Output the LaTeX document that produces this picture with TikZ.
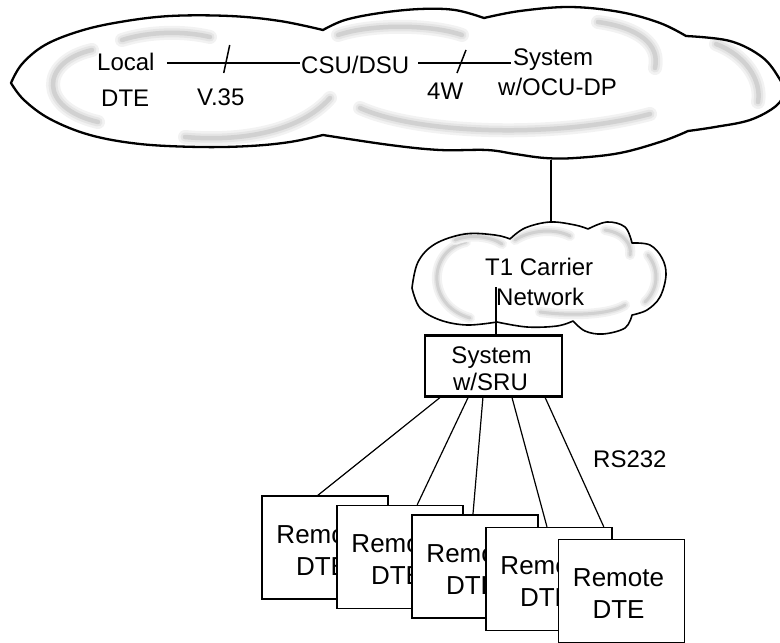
\documentclass[tikz,border=0pt]{standalone}
\usepackage{fontspec}
\setmainfont{Liberation Sans}
\usetikzlibrary{calc}
\begin{document}
\begin{tikzpicture}[x=1pt,y=-1pt,
  lbl/.style={inner sep=0pt, anchor=base west, font=\fontsize{24}{28}\selectfont},
  clbl/.style={inner sep=0pt, anchor=base, font=\fontsize{24}{28}\selectfont},
  rlbl/.style={inner sep=0pt, anchor=base, font=\fontsize{26}{30}\selectfont},
  conn/.style={draw=black, line width=1.2pt},
  bigcloud/.style={draw=black, line width=2.3pt, line join=round},
  smallcloud/.style={draw=black, line width=1.6pt, line join=round},
  haze/.style={draw=gray!10, line width=14pt, line cap=round,
               postaction={draw=gray!20, line width=9pt, line cap=round},
               postaction={draw=gray!36, line width=4.5pt, line cap=round}},
  shaze/.style={draw=gray!10, line width=10pt, line cap=round,
               postaction={draw=gray!20, line width=6pt, line cap=round},
               postaction={draw=gray!36, line width=3pt, line cap=round}},
  dtebox/.style={draw=black, fill=white, line width=1.4pt, minimum width=126pt, minimum height=103pt, inner sep=0pt},
  srubox/.style={draw=black, fill=white, line width=2.4pt, minimum width=137pt, minimum height=61pt, inner sep=0pt}
]
\useasboundingbox (0,0) rectangle (780,643);
\begin{scope}
\clip (0,0) rectangle (780,643);
% haze inside big cloud
\draw[haze] (92,50) .. controls (40,62) and (38,108) .. (98,122);
\draw[haze] (122,40) .. controls (150,31) and (185,31) .. (210,37);
\draw[haze] (185,137) .. controls (240,142) and (300,132) .. (330,98);
\draw[haze] (338,35) .. controls (370,24) and (430,24) .. (462,35);
\draw[haze] (360,108) .. controls (420,135) and (560,138) .. (650,114);
\draw[haze] (598,22) .. controls (640,28) and (660,45) .. (655,68);
\draw[haze] (716,44) .. controls (745,55) and (762,80) .. (758,102);
% big cloud outline
\draw[bigcloud] plot[smooth, tension=0.6] coordinates {(11,83) (22,64) (45,45) (80,31) (120,22) (170,16) (230,16) (280,21) (323,30)}
 -- plot[smooth, tension=0.6] coordinates {(323,30) (345,20) (380,13) (420,9) (455,10) (484,18)}
 -- plot[smooth, tension=0.6] coordinates {(484,18) (520,11) (570,7) (620,12) (660,23) (686,36)}
 -- plot[smooth, tension=0.6] coordinates {(686,36) (730,41) (762,57) (779,78) (784,92) (776,106) (750,120) (715,127) (688,131)}
 -- plot[smooth, tension=0.6] coordinates {(688,131) (663,141) (620,153) (575,158) (545,158) (515,154) (487,150) (440,150) (390,145) (323,135)}
 -- plot[smooth, tension=0.6] coordinates {(323,135) (290,142) (250,146) (200,147) (140,144) (90,135) (50,119) (24,100) (11,83)} -- cycle;
\end{scope}

% haze inside small cloud
\draw[shaze] (466,242) .. controls (428,250) and (425,305) .. (470,318);
\draw[shaze] (455,240) .. controls (470,234) and (490,236) .. (502,244);
\draw[shaze] (515,240) .. controls (530,230) and (555,228) .. (570,236);
\draw[shaze] (605,230) .. controls (625,233) and (632,245) .. (630,255);
\draw[shaze] (648,255) .. controls (660,270) and (658,290) .. (645,302);
\draw[shaze] (540,312) .. controls (570,316) and (610,315) .. (625,305);
% small cloud outline
\draw[smallcloud] plot[smooth, tension=0.6] coordinates {(412,288) (418,262) (435,244) (465,234) (495,235) (510,239)}
 -- plot[smooth, tension=0.6] coordinates {(510,239) (525,228) (550,222) (575,225) (588,229)}
 -- plot[smooth, tension=0.6] coordinates {(588,229) (607,222) (625,227) (632,243)}
 -- plot[smooth, tension=0.6] coordinates {(632,243) (650,245) (662,258) (666,275) (660,297) (647,310) (632,315)}
 -- plot[smooth, tension=0.6] coordinates {(632,315) (625,328) (603,334) (585,331) (573,321)}
 -- plot[smooth, tension=0.6] coordinates {(573,321) (557,326) (527,327) (497,322)}
 -- plot[smooth, tension=0.6] coordinates {(497,322) (467,325) (440,320) (420,308) (412,288)} -- cycle;

% top row labels
\node[lbl] (local) at (97,70) {Local};
\node[lbl] (ldte) at (101,106) {DTE};
\node[lbl] (v35) at (197,105) {V.35};
\node[lbl] (csu) at (301,73) {CSU/DSU};
\node[lbl] (fourw) at (427,99) {4W};
\node[lbl] (sys) at (513,65) {System};
\node[lbl] (ocu) at (498,95) {w/OCU-DP};

\coordinate (l1s) at ($(local.base east)+(12,-7)$);
\coordinate (l1e) at ($(csu.base west)+(-1,-10)$);
\draw[conn] (l1s) -- (l1e);
\coordinate (m1) at ($(l1s)!0.45!(l1e)$);
\draw[conn, line width=1.5pt] ($(m1)+(-3,10)$) -- ($(m1)+(3,-18)$);

\coordinate (l2s) at ($(csu.base east)+(9,-10)$);
\coordinate (l2e) at ($(sys.base west)+(-2,-2)$);
\draw[conn] (l2s) -- (l2e);
\coordinate (m2) at ($(l2s)!0.46!(l2e)$);
\draw[conn, line width=1.5pt] ($(m2)+(-4,10)$) -- ($(m2)+(5,-13)$);

% link big cloud to T1 cloud
\coordinate (bigbottom) at (551,160);
\coordinate (smalltop) at (551,222);
\draw[conn] (bigbottom) -- (smalltop);

% T1 labels
\node[lbl] (t1) at (485,275) {T1 Carrier};
\node[lbl] (net) at (496,305) {Network};

% SRU box
\node[srubox] (sru) at (493.5,366) {};
\node[clbl] (sruA) at (491.5,363) {System};
\node[clbl] (sruB) at (490.5,390) {w/SRU};
\coordinate (netin) at (496,287);
\draw[conn, line width=1.4pt] (netin) -- (netin |- sru.north);

% anchors of the remote DTE boxes
\node[dtebox, draw=none, fill=none] (d1) at (325,547.5) {};
\node[dtebox, draw=none, fill=none] (d2) at (400,557) {};
\node[dtebox, draw=none, fill=none] (d3) at (475,566.5) {};
\node[dtebox, draw=none, fill=none] (d4) at (549,579) {};

\draw[conn] ($(sru.south west)!0.115!(sru.south east)$) -- ($(d1.north west)!0.444!(d1.north east)$);
\draw[conn] ($(sru.south west)!0.317!(sru.south east)$) -- ($(d2.north west)!0.635!(d2.north east)$);
\draw[conn] ($(sru.south west)!0.424!(sru.south east)$) -- ($(d3.north west)!0.484!(d3.north east)$);
\draw[conn] ($(sru.south west)!0.633!(sru.south east)$) -- ($(d4.north west)!0.484!(d4.north east)$);
\draw[conn] ($(sru.south west)!0.871!(sru.south east)$) -- ($(d4.north west)!0.93!(d4.north east)$);

% remote DTE boxes (drawn in order so that later ones cover earlier ones)
\node[dtebox] (b1) at (325,547.5) {};
\node[rlbl] (r1a) at ($(b1.north)+(-3,48)$) {Remote};
\node[rlbl] (r1b) at ($(b1.north)+(-3,80)$) {DTE};
\node[dtebox] (b2) at (400,557) {};
\node[rlbl] (r2a) at ($(b2.north)+(-3,48)$) {Remote};
\node[rlbl] (r2b) at ($(b2.north)+(-3,80)$) {DTE};
\node[dtebox] (b3) at (475,566.5) {};
\node[rlbl] (r3a) at ($(b3.north)+(-3,48)$) {Remote};
\node[rlbl] (r3b) at ($(b3.north)+(-3,80)$) {DTE};
\node[dtebox] (b4) at (549,579) {};
\node[rlbl] (r4a) at ($(b4.north)+(-3,48)$) {Remote};
\node[rlbl] (r4b) at ($(b4.north)+(-3,80)$) {DTE};
\node[dtebox] (b5) at (621.5,591) {};
\node[rlbl] (r5a) at ($(b5.north)+(-3,48)$) {Remote};
\node[rlbl] (r5b) at ($(b5.north)+(-3,80)$) {DTE};

\node[lbl] (rs) at (593,467) {RS232};
\end{tikzpicture}
\end{document}
